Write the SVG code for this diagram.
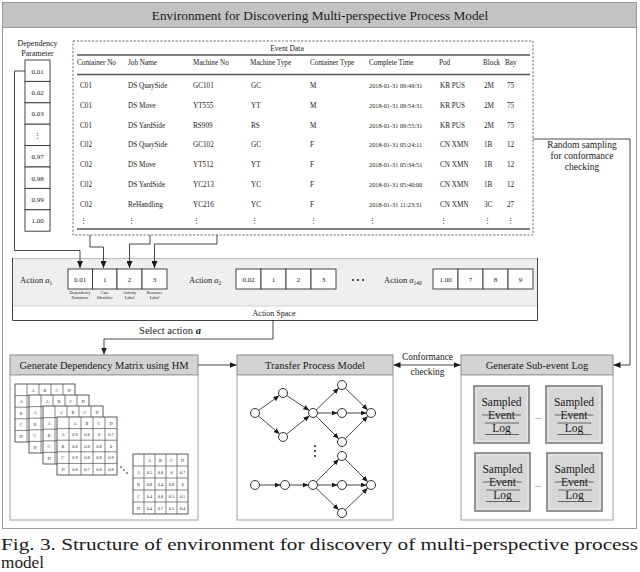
<svg xmlns="http://www.w3.org/2000/svg" width="640" height="572" viewBox="0 0 640 572">
<style>
text{font-family:"Liberation Serif","Times New Roman",serif;fill:#1a1a1a}
.c{text-anchor:middle}
.tb{font-size:7.2px}
.dt{font-size:6.3px}
.cell{fill:#fff;stroke:#333;stroke-width:0.9}
.ln{fill:none;stroke:#1a1a1a;stroke-width:0.8}
.thick{stroke:#555;stroke-width:1.6}
.hdr{fill:#d3d3d3;stroke:#8c8c8c;stroke-width:1}
.body{fill:#fff;stroke:#a0a0a0;stroke-width:1}
.mx{fill:#fff;stroke:#333;stroke-width:0.8}
.mt{font-size:4.3px;text-anchor:middle}
.nd{fill:#fff;stroke:#1a1a1a;stroke-width:0.9}
.sb{fill:#d7d7d7;stroke:#8a8a8a;stroke-width:1.8}
.sbi{fill:none;stroke:#efefef;stroke-width:0.8}
.st{font-size:11.5px;text-anchor:middle}
.rule{stroke:#333;stroke-width:0.7}
.ht{font-size:10.5px;text-anchor:middle}
.lab{font-size:4.2px;text-anchor:middle}
.av{font-size:7px;text-anchor:middle}
.an{font-size:8.5px}
.cap{font-size:16px}
</style>
<defs>
<marker id="ah" markerUnits="userSpaceOnUse" markerWidth="7" markerHeight="6" refX="7" refY="3" orient="auto-start-reverse"><path d="M0,0 L7,3 L0,6 z" fill="#1a1a1a"/></marker>
<marker id="ahs" markerUnits="userSpaceOnUse" markerWidth="6" markerHeight="5" refX="6" refY="2.5" orient="auto"><path d="M0,0 L6,2.5 L0,5 z" fill="#1a1a1a"/></marker>
<g id="grid"><rect class="mx" width="60" height="58"/><path d="M12,0V58M24,0V58M36,0V58M48,0V58M0,11.6H60M0,23.2H60M0,34.8H60M0,46.4H60" stroke="#333" stroke-width="0.6"/></g>
</defs>

<g id="frame">
<rect x="2.5" y="27.5" width="634" height="501" fill="#fff" stroke="#999" stroke-width="1"/>
</g>
<g id="title">
<rect x="2.5" y="2.5" width="634" height="25" fill="#c3c3c3" stroke="#999" stroke-width="1"/>
<text x="320" y="19.5" class="c" style="font-size:13.3px">Environment for Discovering Multi-perspective Process Model</text>
</g>

<g id="dependency-parameter">
<text x="37.5" y="46" class="c" style="font-size:8px">Dependency</text>
<text x="37.5" y="56" class="c" style="font-size:8px">Parameter</text>
<rect class="cell" x="25" y="60" width="25" height="21.4"/>
<rect class="cell" x="25" y="81.4" width="25" height="21.4"/>
<rect class="cell" x="25" y="102.8" width="25" height="21.4"/>
<rect class="cell" x="25" y="124.2" width="25" height="21.4"/>
<rect class="cell" x="25" y="145.6" width="25" height="21.4"/>
<rect class="cell" x="25" y="167" width="25" height="21.4"/>
<rect class="cell" x="25" y="188.4" width="25" height="21.4"/>
<rect class="cell" x="25" y="209.8" width="25" height="21.4"/>
<text x="37.5" y="73.5" class="av">0.01</text>
<text x="37.5" y="94.9" class="av">0.02</text>
<text x="37.5" y="116.3" class="av">0.03</text>
<text x="37.5" y="138" class="av">⋮</text>
<text x="37.5" y="159.1" class="av">0.97</text>
<text x="37.5" y="180.5" class="av">0.98</text>
<text x="37.5" y="201.9" class="av">0.99</text>
<text x="37.5" y="223.3" class="av">1.00</text>
</g>

<g id="event-data">
<rect x="73" y="41" width="460" height="194" fill="none" stroke="#444" stroke-width="0.8" stroke-dasharray="2.2,1.6"/>
<text x="287" y="51" class="c" style="font-size:7.5px">Event Data</text>
<line x1="77" y1="55" x2="530" y2="55" class="thick"/>
<line x1="77" y1="74.5" x2="530" y2="74.5" class="thick"/>
<line x1="77" y1="229" x2="530" y2="229" class="thick"/>
<g class="tb">
<text x="77" y="64.5">Container No</text><text x="128" y="64.5">Job Name</text><text x="193" y="64.5">Machine No</text><text x="250" y="64.5">Machine Type</text><text x="310" y="64.5">Container Type</text><text x="369" y="64.5">Complete Time</text><text x="439" y="64.5">Pod</text><text x="483" y="64.5">Block</text><text x="505" y="64.5">Bay</text>

<text x="80" y="87.5">C01</text><text x="128" y="87.5">DS QuaySide</text><text x="193" y="87.5">GC101</text><text x="251" y="87.5">GC</text><text x="310" y="87.5">M</text><text x="369" y="87.5" class="dt">2018-01-31 09:49:31</text><text x="440" y="87.5">KR PUS</text><text x="484" y="87.5">2M</text><text x="507" y="87.5">75</text>

<text x="80" y="107.5">C01</text><text x="128" y="107.5">DS Move</text><text x="193" y="107.5">YT555</text><text x="251" y="107.5">YT</text><text x="310" y="107.5">M</text><text x="369" y="107.5" class="dt">2018-01-31 09:54:31</text><text x="440" y="107.5">KR PUS</text><text x="484" y="107.5">2M</text><text x="507" y="107.5">75</text>

<text x="80" y="127.5">C01</text><text x="128" y="127.5">DS YardSide</text><text x="193" y="127.5">RS909</text><text x="251" y="127.5">RS</text><text x="310" y="127.5">M</text><text x="369" y="127.5" class="dt">2018-01-31 09:55:31</text><text x="440" y="127.5">KR PUS</text><text x="484" y="127.5">2M</text><text x="507" y="127.5">75</text>

<text x="80" y="147">C02</text><text x="128" y="147">DS QuaySide</text><text x="193" y="147">GC102</text><text x="251" y="147">GC</text><text x="310" y="147">F</text><text x="369" y="147" class="dt">2018-01-31 05:24:11</text><text x="440" y="147">CN XMN</text><text x="484" y="147">1B</text><text x="507" y="147">12</text>

<text x="80" y="167">C02</text><text x="128" y="167">DS Move</text><text x="193" y="167">YT512</text><text x="251" y="167">YT</text><text x="310" y="167">F</text><text x="369" y="167" class="dt">2018-01-31 05:34:51</text><text x="440" y="167">CN XMN</text><text x="484" y="167">1B</text><text x="507" y="167">12</text>

<text x="80" y="186.5">C02</text><text x="128" y="186.5">DS YardSide</text><text x="193" y="186.5">YC213</text><text x="251" y="186.5">YC</text><text x="310" y="186.5">F</text><text x="369" y="186.5" class="dt">2018-01-31 05:40:00</text><text x="440" y="186.5">CN XMN</text><text x="484" y="186.5">1B</text><text x="507" y="186.5">12</text>

<text x="80" y="206.5">C02</text><text x="128" y="206.5">ReHandling</text><text x="193" y="206.5">YC216</text><text x="251" y="206.5">YC</text><text x="310" y="206.5">F</text><text x="369" y="206.5" class="dt">2018-01-31 11:23:31</text><text x="440" y="206.5">CN XMN</text><text x="484" y="206.5">3C</text><text x="507" y="206.5">27</text>

<text x="80" y="223">⋮</text><text x="128" y="223">⋮</text><text x="193" y="223">⋮</text><text x="251" y="223">⋮</text><text x="310" y="223">⋮</text><text x="369" y="223">⋮</text><text x="440" y="223">⋮</text><text x="484" y="223">⋮</text><text x="507" y="223">⋮</text>
</g>
</g>

<g id="action-space">
<rect x="12" y="258" width="526" height="48" fill="#efefef"/>
<rect x="12" y="306" width="526" height="14" fill="#fff"/>
<line x1="12" y1="258.5" x2="538" y2="258.5" stroke="#bbb" stroke-width="1"/>
<line x1="12" y1="306" x2="538" y2="306" stroke="#c8c8c8" stroke-width="0.8"/>
<path d="M12.5,258V320.5H537.5V258" fill="none" stroke="#444" stroke-width="1"/>
<text x="274" y="316" class="c" style="font-size:8px">Action Space</text>

<text x="20" y="283" class="an">Action <tspan font-style="italic">a</tspan><tspan font-size="5.5" dy="2">1</tspan></text>
<rect class="cell" x="68" y="269" width="24.5" height="20"/>
<rect class="cell" x="92.5" y="269" width="24.5" height="20"/>
<rect class="cell" x="117" y="269" width="25" height="20"/>
<rect class="cell" x="142" y="269" width="25" height="20"/>
<text x="80" y="281.5" class="av">0.01</text><text x="104.8" y="281.5" class="av">1</text><text x="129.5" y="281.5" class="av">2</text><text x="154.5" y="281.5" class="av">3</text>
<text x="80" y="294" class="lab">Dependency</text><text x="80" y="298.5" class="lab">Parameter</text>
<text x="104.8" y="294" class="lab">Case</text><text x="104.8" y="298.5" class="lab">Identifier</text>
<text x="129.5" y="294" class="lab">Activity</text><text x="129.5" y="298.5" class="lab">Label</text>
<text x="154.5" y="294" class="lab">Resource</text><text x="154.5" y="298.5" class="lab">Label</text>

<text x="189" y="283" class="an">Action <tspan font-style="italic">a</tspan><tspan font-size="5.5" dy="2">2</tspan></text>
<rect class="cell" x="236" y="269" width="25" height="20"/>
<rect class="cell" x="261" y="269" width="25" height="20"/>
<rect class="cell" x="286" y="269" width="25" height="20"/>
<rect class="cell" x="311" y="269" width="25" height="20"/>
<text x="248.5" y="281.5" class="av">0.02</text><text x="273.5" y="281.5" class="av">1</text><text x="298.5" y="281.5" class="av">2</text><text x="323.5" y="281.5" class="av">3</text>

<circle cx="353" cy="280" r="1" fill="#1a1a1a"/><circle cx="358" cy="280" r="1" fill="#1a1a1a"/><circle cx="363" cy="280" r="1" fill="#1a1a1a"/>

<text x="384" y="283" class="an">Action <tspan font-style="italic">a</tspan><tspan font-size="5.5" dy="2">140</tspan></text>
<rect class="cell" x="433" y="269" width="25" height="20"/>
<rect class="cell" x="458" y="269" width="25" height="20"/>
<rect class="cell" x="483" y="269" width="25" height="20"/>
<rect class="cell" x="508" y="269" width="25" height="20"/>
<text x="445.5" y="281.5" class="av">1.00</text><text x="470.5" y="281.5" class="av">7</text><text x="495.5" y="281.5" class="av">8</text><text x="520.5" y="281.5" class="av">9</text>
</g>

<g id="dependency-matrix">
<rect class="hdr" x="10" y="355" width="188" height="20"/>
<rect class="body" x="10" y="375" width="188" height="145"/>
<text x="104" y="369" class="ht">Generate Dependency Matrix using HM</text>
<use href="#grid" x="15" y="384"/>
<g class="mt"><text x="33" y="391.5">A</text><text x="45" y="391.5">B</text><text x="57" y="391.5">C</text><text x="69" y="391.5">D</text>
<text x="21" y="403.1">A</text><text x="21" y="414.7">B</text><text x="21" y="426.3">C</text><text x="21" y="437.9">D</text></g>
<use href="#grid" x="29" y="395"/>
<g class="mt"><text x="47" y="402.5">A</text><text x="59" y="402.5">B</text><text x="71" y="402.5">C</text><text x="83" y="402.5">D</text>
<text x="35" y="414.1">A</text><text x="35" y="425.7">B</text><text x="35" y="437.3">C</text><text x="35" y="448.9">D</text></g>
<use href="#grid" x="43" y="406"/>
<g class="mt"><text x="61" y="413.5">A</text><text x="73" y="413.5">B</text><text x="85" y="413.5">C</text><text x="97" y="413.5">D</text>
<text x="49" y="425.1">A</text><text x="49" y="436.7">B</text><text x="49" y="448.3">C</text><text x="49" y="459.9">D</text></g>
<use href="#grid" x="57" y="417"/>
<g class="mt"><text x="75" y="424.5">A</text><text x="87" y="424.5">B</text><text x="99" y="424.5">C</text><text x="111" y="424.5">D</text>
<text x="63" y="436.1">A</text><text x="75" y="436.1">0.9</text><text x="87" y="436.1">0.8</text><text x="99" y="436.1">0</text><text x="111" y="436.1">0.7</text>
<text x="63" y="447.7">B</text><text x="75" y="447.7">0.8</text><text x="87" y="447.7">0.8</text><text x="99" y="447.7">0.8</text><text x="111" y="447.7">0</text>
<text x="63" y="459.3">C</text><text x="75" y="459.3">0.9</text><text x="87" y="459.3">0.8</text><text x="99" y="459.3">0.8</text><text x="111" y="459.3">0.9</text>
<text x="63" y="470.9">D</text><text x="75" y="470.9">0.8</text><text x="87" y="470.9">0.7</text><text x="99" y="470.9">0.8</text><text x="111" y="470.9">0.8</text></g>
<circle cx="121" cy="467" r="0.8" fill="#1a1a1a"/><circle cx="124" cy="470" r="0.8" fill="#1a1a1a"/><circle cx="127" cy="473" r="0.8" fill="#1a1a1a"/>
<rect class="mx" x="133" y="454" width="55" height="60"/>
<path d="M144,454V514M155,454V514M166,454V514M177,454V514M133,466H188M133,478H188M133,490H188M133,502H188" stroke="#333" stroke-width="0.6"/>
<g class="mt"><text x="149.5" y="461.7">A</text><text x="160.5" y="461.7">B</text><text x="171.5" y="461.7">C</text><text x="182.5" y="461.7">D</text>
<text x="138.5" y="473.7">A</text><text x="149.5" y="473.7">0.5</text><text x="160.5" y="473.7">0.8</text><text x="171.5" y="473.7">0</text><text x="182.5" y="473.7">0.7</text>
<text x="138.5" y="485.7">B</text><text x="149.5" y="485.7">0.8</text><text x="160.5" y="485.7">0.4</text><text x="171.5" y="485.7">0.8</text><text x="182.5" y="485.7">0</text>
<text x="138.5" y="497.7">C</text><text x="149.5" y="497.7">0.4</text><text x="160.5" y="497.7">0.8</text><text x="171.5" y="497.7">0.5</text><text x="182.5" y="497.7">0.5</text>
<text x="138.5" y="509.7">D</text><text x="149.5" y="509.7">0.4</text><text x="160.5" y="509.7">0.7</text><text x="171.5" y="509.7">0.5</text><text x="182.5" y="509.7">0.4</text></g>
</g>

<g id="transfer-model">
<rect class="hdr" x="237" y="355" width="156" height="20"/>
<rect class="body" x="237" y="375" width="156" height="145"/>
<text x="315" y="369" class="ht">Transfer Process Model</text>
<g class="ln" marker-end="url(#ahs)">
<line x1="258.7" y1="410.4" x2="279.3" y2="395.6"/>
<line x1="258.4" y1="415.9" x2="279.6" y2="434.1"/>
<line x1="286.7" y1="395.5" x2="309.3" y2="410.5"/>
<line x1="286.5" y1="434.2" x2="309.5" y2="415.8"/>
<line x1="316.2" y1="409.9" x2="338.8" y2="388.1"/>
<line x1="317.5" y1="413" x2="337.5" y2="413"/>
<line x1="316.2" y1="416.2" x2="338.8" y2="438.8"/>
<line x1="345.2" y1="388.1" x2="367.8" y2="409.9"/>
<line x1="346.5" y1="413" x2="366.5" y2="413"/>
<line x1="345.2" y1="438.8" x2="367.8" y2="416.2"/>
<line x1="259.5" y1="485" x2="280.5" y2="485"/>
<line x1="289.5" y1="485" x2="308.5" y2="485"/>
<line x1="316.2" y1="481.8" x2="338.8" y2="459.2"/>
<line x1="317.5" y1="485" x2="337.5" y2="485"/>
<line x1="316.2" y1="488.1" x2="338.8" y2="509.9"/>
<line x1="345.2" y1="459.2" x2="367.8" y2="481.8"/>
<line x1="346.5" y1="485" x2="366.5" y2="485"/>
<line x1="345.2" y1="509.9" x2="367.8" y2="488.1"/>
</g>
<circle class="nd" cx="255" cy="413" r="4.5"/><circle class="nd" cx="283" cy="393" r="4.5"/><circle class="nd" cx="283" cy="437" r="4.5"/><circle class="nd" cx="313" cy="413" r="4.5"/><circle class="nd" cx="342" cy="385" r="4.5"/><circle class="nd" cx="342" cy="413" r="4.5"/><circle class="nd" cx="342" cy="442" r="4.5"/><circle class="nd" cx="371" cy="413" r="4.5"/>
<circle class="nd" cx="255" cy="485" r="4.5"/><circle class="nd" cx="285" cy="485" r="4.5"/><circle class="nd" cx="313" cy="485" r="4.5"/><circle class="nd" cx="342" cy="456" r="4.5"/><circle class="nd" cx="342" cy="485" r="4.5"/><circle class="nd" cx="342" cy="513" r="4.5"/><circle class="nd" cx="371" cy="485" r="4.5"/>
<circle cx="315" cy="446" r="1" fill="#1a1a1a"/><circle cx="315" cy="451" r="1" fill="#1a1a1a"/><circle cx="315" cy="456" r="1" fill="#1a1a1a"/>
</g>

<g id="sub-event-log">
<rect class="hdr" x="461" y="355" width="152" height="20"/>
<rect class="body" x="461" y="375" width="152" height="145"/>
<text x="537" y="369" class="ht">Generate Sub-event Log</text>
<g id="sample1"><rect class="sb" x="474" y="386" width="55" height="57"/><rect class="sbi" x="476" y="388" width="51" height="53"/>
<text x="501.5" y="406" class="st">Sampled</text><text x="501.5" y="419" class="st">Event</text><text x="501.5" y="432" class="st">Log</text>
<path class="rule" d="M482,415H521M485,423H519M485,434.5H519"/></g>
<g id="sample2"><rect class="sb" x="546" y="386" width="56" height="57"/><rect class="sbi" x="548" y="388" width="52" height="53"/>
<text x="574" y="406" class="st">Sampled</text><text x="574" y="419" class="st">Event</text><text x="574" y="432" class="st">Log</text>
<path class="rule" d="M554.5,415H593.5M557.5,423H591.5M557.5,434.5H591.5"/></g>
<g id="sample3"><rect class="sb" x="475" y="453" width="55" height="58"/><rect class="sbi" x="477" y="455" width="51" height="54"/>
<text x="502.5" y="473" class="st">Sampled</text><text x="502.5" y="486" class="st">Event</text><text x="502.5" y="499" class="st">Log</text>
<path class="rule" d="M483,482H522M486,490H520M486,501.5H520"/></g>
<g id="sample4"><rect class="sb" x="547" y="453" width="55" height="58"/><rect class="sbi" x="549" y="455" width="51" height="54"/>
<text x="574.5" y="473" class="st">Sampled</text><text x="574.5" y="486" class="st">Event</text><text x="574.5" y="499" class="st">Log</text>
<path class="rule" d="M555,482H594M558,490H592M558,501.5H592"/></g>
<text x="538" y="419" class="c" style="font-size:8px">...</text>
<text x="538" y="487" class="c" style="font-size:8px">...</text>
</g>

<g id="connectors">
<path class="ln" d="M25,71H14.5V250.5H80V268" marker-end="url(#ah)"/>
<path class="ln" d="M90,235V247H103.5V268" marker-end="url(#ah)"/>
<path class="ln" d="M150,235V244H129.5V268" marker-end="url(#ah)"/>
<path class="ln" d="M217,235V244H154.5V268" marker-end="url(#ah)"/>
<path class="ln" d="M533,139H630V365H613.5" marker-end="url(#ah)"/>
<path class="ln" d="M273,320.5V339H104V354.5" marker-end="url(#ah)"/>
<path class="ln" d="M198,365H236.5" marker-end="url(#ah)"/>
<path class="ln" d="M393.5,365H460.5" marker-start="url(#ah)" marker-end="url(#ah)"/>
<text x="582" y="148" class="c" style="font-size:9.5px">Random sampling</text>
<text x="582" y="159" class="c" style="font-size:9.5px">for conformance</text>
<text x="582" y="170" class="c" style="font-size:9.5px">checking</text>
<text x="170" y="334" class="c" style="font-size:10.5px">Select action <tspan font-style="italic" font-weight="bold">a</tspan></text>
<text x="427.5" y="359.5" class="c" style="font-size:9.4px">Conformance</text>
<text x="427.5" y="374.5" class="c" style="font-size:9.4px">checking</text>
</g>

<g id="caption">
<text x="1" y="550" class="cap" textLength="637" lengthAdjust="spacingAndGlyphs">Fig. 3. Structure of environment for discovery of multi-perspective process</text>
<text x="1" y="567.5" class="cap" textLength="43" lengthAdjust="spacingAndGlyphs">model</text>
</g>
</svg>
